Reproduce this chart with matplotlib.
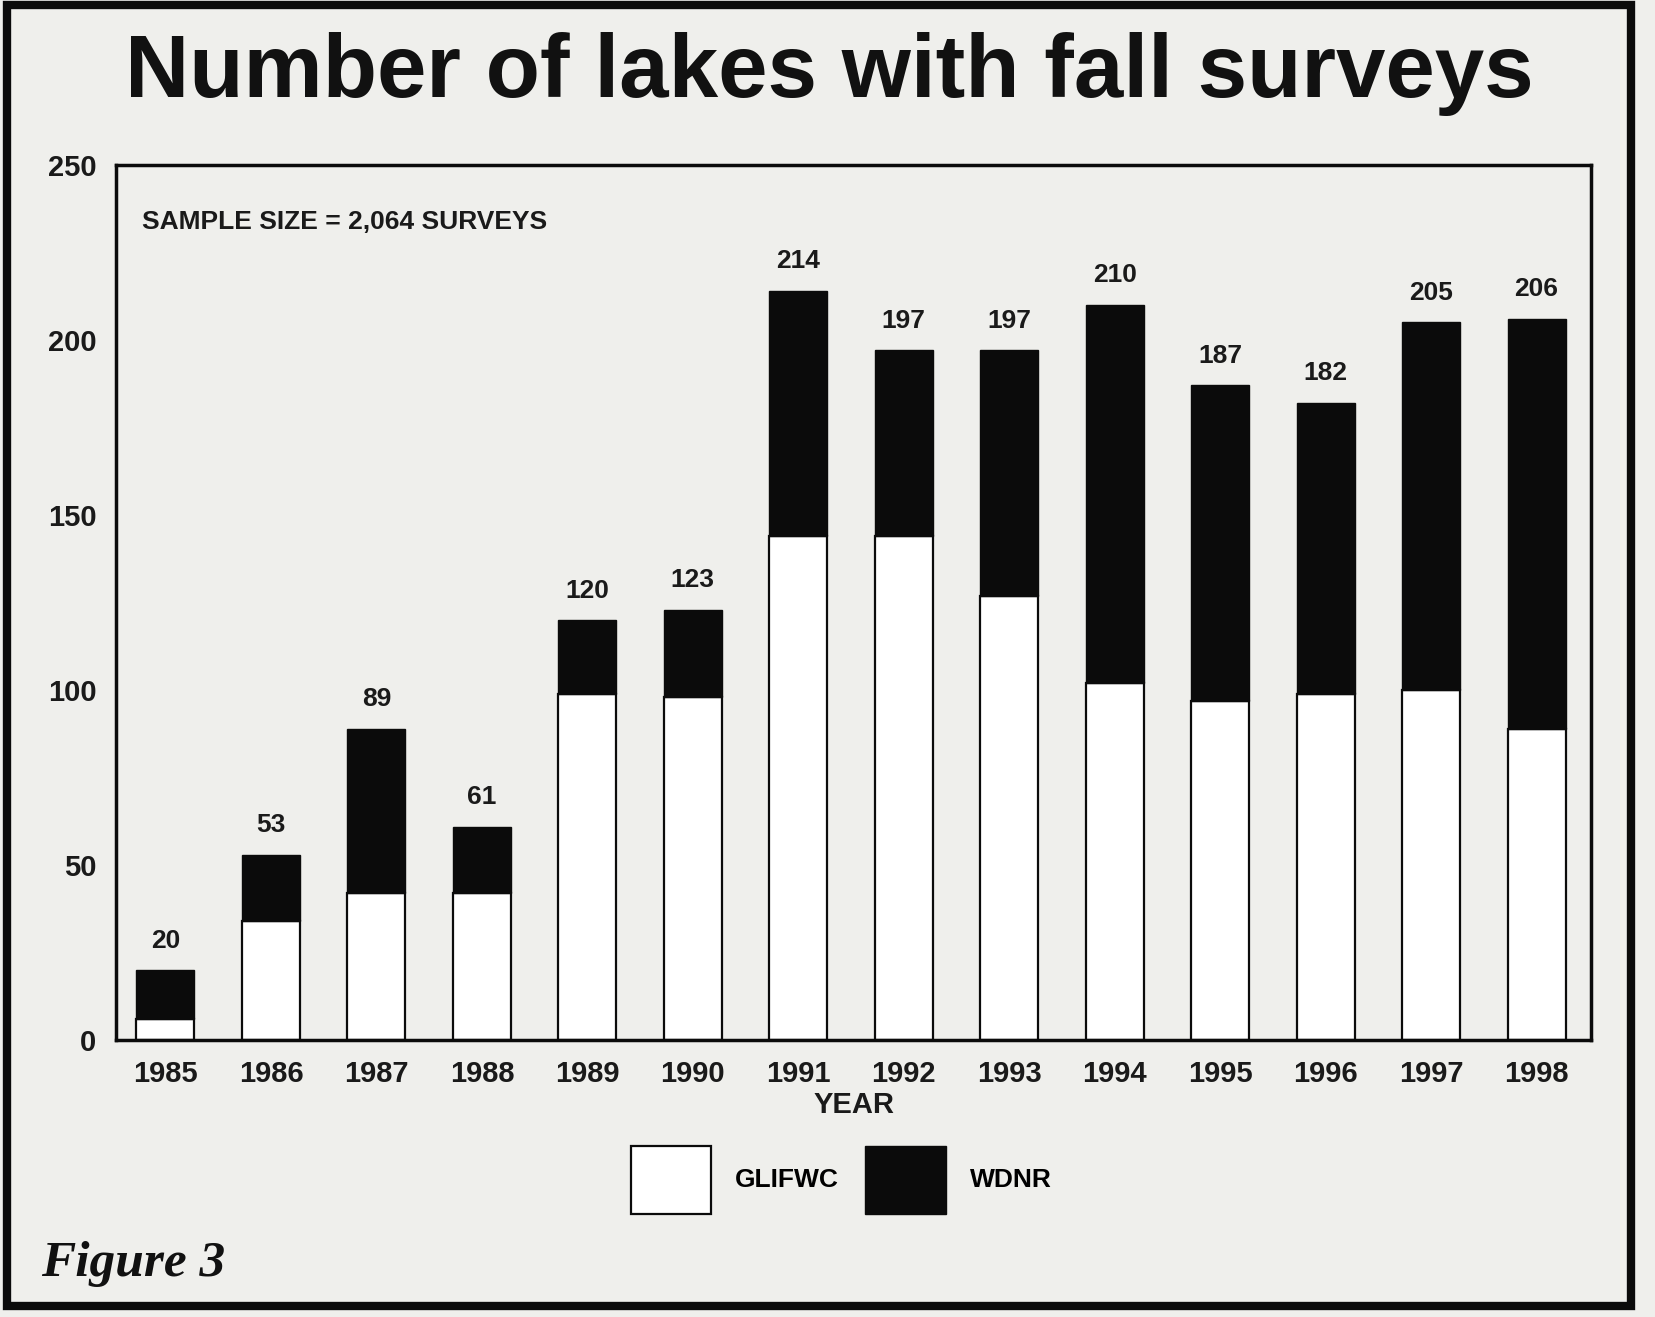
import matplotlib.pyplot as plt
from matplotlib.patches import Patch, Rectangle

# Datos
years = ['1985', '1986', '1987', '1988', '1989', '1990', '1991',
         '1992', '1993', '1994', '1995', '1996', '1997', '1998']
totals = [20, 53, 89, 61, 120, 123, 214, 197, 197, 210, 187, 182, 205, 206]
glifwc = [6, 34, 42, 42, 99, 98, 144, 144, 127, 102, 97, 99, 100, 89]
wdnr = [t - g for t, g in zip(totals, glifwc)]
y_ticks = [0, 50, 100, 150, 200, 250]

PAPER = '#efefec'
INK = '#0b0b0b'

plt.rcParams['font.family'] = ['Liberation Sans', 'DejaVu Sans']

fig = plt.figure(figsize=(16.56, 13.17), dpi=100, facecolor=PAPER)
ax = fig.add_axes([0.070, 0.210, 0.891, 0.665])
ax.set_facecolor(PAPER)

x = list(range(len(years)))
ax.bar(x, glifwc, width=0.55, color='white', edgecolor=INK, linewidth=1.6)
ax.bar(x, wdnr, width=0.55, bottom=glifwc, color=INK, edgecolor=INK, linewidth=1.0)

# Totales sobre cada barra
for xi, t in zip(x, totals):
    ax.text(xi, t + 5, str(t), ha='center', va='bottom',
            fontsize=19, fontweight='bold', color='#1a1a1a')

ax.set_xlim(-0.47, 13.52)
ax.set_ylim(0, 250)
ax.set_yticks(y_ticks)
ax.set_xticks(x)
ax.set_xticklabels(years)
ax.tick_params(axis='both', length=0, labelsize=21, colors='#1a1a1a', pad=14)
for lbl in ax.get_yticklabels() + ax.get_xticklabels():
    lbl.set_fontweight('bold')
for s in ax.spines.values():
    s.set_linewidth(2.5)
    s.set_color(INK)

ax.set_xlabel('YEAR', fontsize=21, fontweight='bold', color='#1a1a1a', labelpad=2)

ax.text(0.018, 0.934, 'SAMPLE SIZE = 2,064 SURVEYS', transform=ax.transAxes,
        fontsize=19, fontweight='bold', color='#1a1a1a', va='center')

# Titulo
fig.text(0.501, 0.944, 'Number of lakes with fall surveys', ha='center', va='center',
         fontsize=64, fontweight='heavy', color='#111111')

# Leyenda
handles = [Patch(facecolor='white', edgecolor=INK, linewidth=1.6, label='GLIFWC'),
           Patch(facecolor=INK, edgecolor=INK, label='WDNR')]
fig.legend(handles=handles, loc='center', bbox_to_anchor=(0.508, 0.104), ncol=2,
           frameon=False, handlelength=3.05, handleheight=3.6,
           columnspacing=1.0, handletextpad=0.9,
           prop={'weight': 'bold', 'size': 19})

# Figure 3
fig.text(0.025, 0.040, 'Figure 3', ha='left', va='center', fontsize=37,
         fontweight='bold', fontstyle='italic', family='Liberation Serif', color='#111111')

# Marco exterior
fig.patches.append(Rectangle((0.004, 0.008), 0.981, 0.988, transform=fig.transFigure,
                             fill=False, edgecolor=INK, linewidth=6))

fig.savefig('out.png', dpi=100, facecolor=PAPER)
